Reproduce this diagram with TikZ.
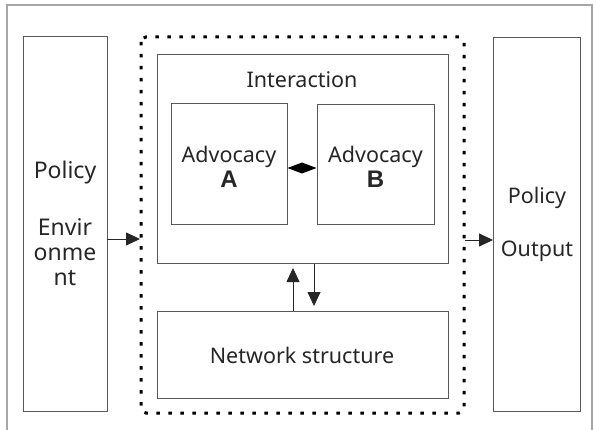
\documentclass[tikz,border=0pt]{standalone}
\usepackage{fontspec}
\setmainfont{Noto Sans}
\newfontfamily\boldsans{Liberation Sans}
\usetikzlibrary{arrows.meta}
\begin{document}
\begin{tikzpicture}[x=1pt,y=-1pt,
  box/.style={draw=black!65,line width=1pt},
  lbl/.style={font=\fontsize{21.5}{25}\selectfont,text=black!85,inner sep=0pt},
  arr/.style={-{Triangle[length=14pt,width=13pt]},line width=0.8pt,black!85}]
\useasboundingbox (0,0) rectangle (596,430);
\fill[white] (0,0) rectangle (596,430);
\draw[black!35,line width=1.2pt] (7,434) -- (7,5) -- (592,5) -- (592,434);
% side boxes
\draw[box] (23,37) rectangle (107,411);
\coordinate (envE) at (107,239);
\draw[box] (493,38) rectangle (580,411);
\coordinate (outW) at (493,240);
% dotted frame
\draw[line width=3pt,dash pattern=on 3.5pt off 8.5pt,rounded corners=5pt] (141,37) rectangle (464,413);
\coordinate (dotW) at (140,239);
\coordinate (dotE) at (465,240);
% interaction box
\node[box,minimum width=291pt,minimum height=209pt,inner sep=0pt] (inter) at (302.5,159) {};
\node[lbl] (intert) at (302,80) {Interaction};
\node[box,minimum width=116pt,minimum height=120pt,inner sep=0pt] (A) at (229,164) {};
\node[box,minimum width=117pt,minimum height=119pt,inner sep=0pt] (B) at (375.5,164.5) {};
\node[lbl,align=center] (At) at (229,167) {Advocacy\\{\boldsans\bfseries\fontsize{24}{25}\selectfont A}};
\node[lbl,align=center] (Bt) at (375.5,167) {Advocacy\\{\boldsans\bfseries\fontsize{24}{25}\selectfont B}};
\fill[black] (A.east |- 0,168) -- (302,162.5) -- (B.west |- 0,168) -- (302,173.5) -- cycle;
% network
\node[box,minimum width=291pt,minimum height=87pt,inner sep=0pt] (net) at (302.5,354.5) {};
\node[lbl] (nett) at (302,355) {Network structure};
\draw[arr] (net.north -| 293,0) -- (293,268);
\draw[arr] (inter.south -| 314,0) -- (314,306);
% side labels
\node[lbl,font=\fontsize{23}{25}\selectfont] (p1) at (65,173) {Policy};
\node[lbl,align=center,font=\fontsize{23}{25}\selectfont] (e1) at (65,252) {Envir\\onme\\nt};
\node[lbl] (p2) at (537,198) {Policy};
\node[lbl] (o2) at (537,251) {Output};
\draw[arr] (envE) -- (dotW);
\draw[arr] (dotE) -- (outW);
\end{tikzpicture}
\end{document}
